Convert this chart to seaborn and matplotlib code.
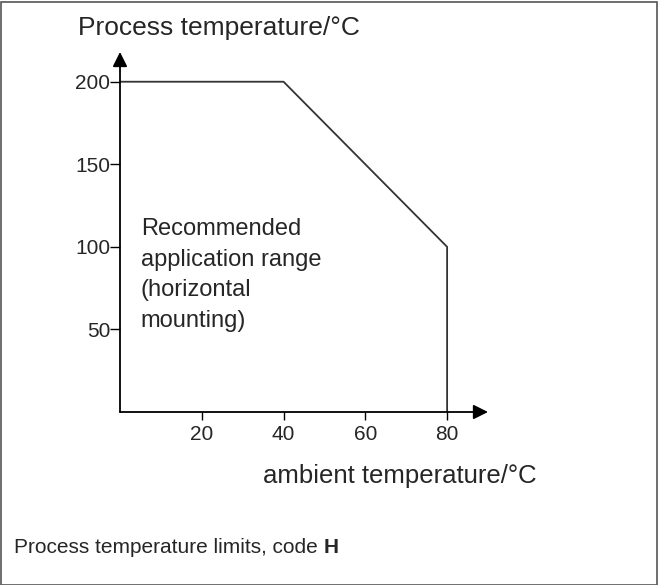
import matplotlib
matplotlib.use('Agg')
import matplotlib.pyplot as plt
import seaborn as sns
import pandas as pd
from matplotlib.patches import Rectangle

# limit curve of the recommended application range
ambient = [0, 40, 80, 80]
process = [200, 200, 100, 0]
x_ticks = [20, 40, 60, 80]
y_ticks = [50, 100, 150, 200]

sns.set_style('white')
plt.rcParams['font.family'] = ['Liberation Sans', 'DejaVu Sans']

df = pd.DataFrame({'ambient': ambient, 'process': process})

fig = plt.figure(figsize=(6.58, 5.85), dpi=100)
ax = fig.add_axes([120/658, 173/585, 368/658, 360/585])

sns.lineplot(data=df, x='ambient', y='process', sort=False, estimator=None,
             color='#333333', lw=1.3, ax=ax)

ax.set_xlim(0, 90)
ax.set_ylim(0, 218)
for s in ax.spines.values():
    s.set_visible(False)

# axes drawn as arrows
ax.annotate('', xy=(1, 0), xytext=(0, 0), xycoords='axes fraction',
            arrowprops=dict(arrowstyle='-|>', color='black', lw=1.3,
                            mutation_scale=22, shrinkA=0, shrinkB=0))
ax.annotate('', xy=(0, 1), xytext=(0, 0), xycoords='axes fraction',
            arrowprops=dict(arrowstyle='-|>', color='black', lw=1.3,
                            mutation_scale=22, shrinkA=0, shrinkB=0))

ax.set_xticks(x_ticks)
ax.set_yticks(y_ticks)
ax.tick_params(axis='both', direction='out', width=1, color='black',
               labelsize=15, left=True, bottom=True)
ax.tick_params(axis='y', pad=0, length=7)
ax.tick_params(axis='x', pad=3, length=6)
ax.set_xlabel('')
ax.set_ylabel('')

ax.text(5.1, 51.5, 'Recommended\napplication range\n(horizontal\nmounting)',
        fontsize=17, va='baseline', ha='left', linespacing=1.5)

fig.text(78/658, 1 - 35/585, 'Process temperature/°C', fontsize=19,
         va='baseline', ha='left')
fig.text(263/658, 1 - 483/585, 'ambient temperature/°C', fontsize=18.5,
         va='baseline', ha='left')
foot = fig.text(14/658, 1 - 553/585, 'Process temperature limits, code ',
                fontsize=15, va='baseline', ha='left')
ax.annotate('H', xy=(1, 0), xycoords=foot, va='bottom', ha='left',
            fontsize=15, fontweight='bold')

fig.patches.append(Rectangle((0.5/658, 0.5/585), 656/658, 583/585,
                             transform=fig.transFigure, fill=False,
                             edgecolor='#555555', lw=1.2))

plt.savefig('out.png', dpi=100)
